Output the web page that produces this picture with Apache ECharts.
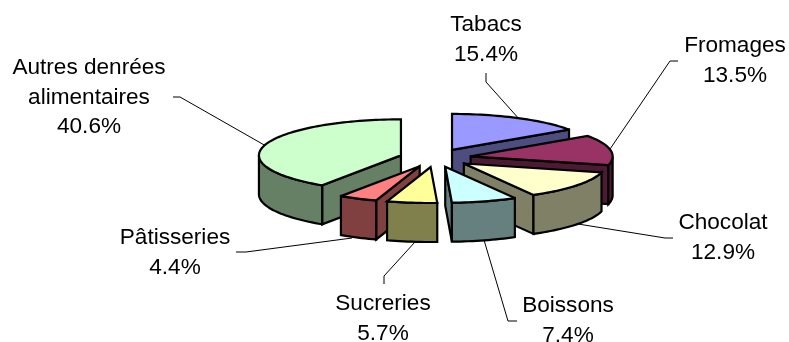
<!DOCTYPE html>
<html>
<head>
<meta charset="utf-8">
<style>html,body{margin:0;padding:0;background:#fff}#chart{width:789px;height:342px}</style>
<script src="https://cdn.jsdelivr.net/npm/echarts@6/dist/echarts.min.js"></script>
</head>
<body>
<div id="chart"></div>
<script>
// Slices run clockwise from twelve o'clock.
const categories = [['Tabacs'], ['Fromages'], ['Chocolat'], ['Boissons'], ['Sucreries'], ['Pâtisseries'], ['Autres denrées', 'alimentaires']];
const shares = [15.4, 13.5, 12.9, 7.4, 5.7, 4.4, 40.6];
const topColors = ['#9999FF', '#993366', '#FFFFCC', '#CCFFFF', '#FFFF99', '#FF8080', '#CCFFCC'];
const sideColors = ['#4D4D80', '#4D1A33', '#808066', '#668080', '#80804D', '#804040', '#668066'];

// Label anchors: centre x and baseline of the first line.
const labelAnchors = [[486, 32], [735, 53], [723, 230], [568, 313], [383, 311], [175, 245], [89, 75]];
// Leader lines from each label to its slice.
const leaders = [
  [[486, 73], [486, 82], [520, 120]],
  [[678, 61], [670, 61], [608, 152]],
  [[673, 238], [665, 238], [578, 224]],
  [[517, 321], [508, 321], [484, 240]],
  [[384, 284], [384, 276], [415, 242]],
  [[236, 252], [246, 252], [352, 238]],
  [[173, 97], [180, 97], [266, 146]]
];

// Pie projection, in chart pixels.
const pie = { cx: 435.3, cy: 158, rx: 142, ry: 36, depth: 39, explode: 35.9 };
const lineGap = 29.5;
const fontSize = 22.6;
const outline = { stroke: '#000', lineWidth: 2.2, lineJoin: 'miter', miterLimit: 3 };

const total = shares.reduce((a, b) => a + b, 0);
const angles = [];
shares.reduce((acc, v) => {
  const next = acc + v / total * 2 * Math.PI;
  angles.push([acc, next]);
  return next;
}, 0);

function apexOf(i) {
  const mid = (angles[i][0] + angles[i][1]) / 2;
  const k = pie.explode / pie.rx;
  return [pie.cx + pie.rx * k * Math.sin(mid), pie.cy - pie.ry * k * Math.cos(mid)];
}
function rim(i, t, drop) {
  const a = apexOf(i);
  return [a[0] + pie.rx * Math.sin(t), a[1] - pie.ry * Math.cos(t) + drop];
}
function arc(i, from, to, drop) {
  const steps = Math.max(2, Math.ceil(Math.abs(to - from) / 0.03));
  const pts = [];
  for (let s = 0; s <= steps; s++) pts.push(rim(i, from + (to - from) * s / steps, drop));
  return pts;
}

function renderSlice(params, api) {
  const i = api.value(1);
  const [from, to] = angles[i];
  const apex = apexOf(i);
  const apexLow = [apex[0], apex[1] + pie.depth];
  const toPx = pts => pts.map(p => api.coord(p));
  const poly = (pts, fill) => ({
    type: 'polygon',
    shape: { points: toPx(pts) },
    style: Object.assign({ fill }, outline)
  });
  const children = [];

  // Cut faces turned towards the viewer.
  if (Math.sin(from) < -1e-6) {
    children.push(poly([apex, rim(i, from, 0), rim(i, from, pie.depth), apexLow], sideColors[i]));
  }
  if (Math.sin(to) > 1e-6) {
    children.push(poly([apex, rim(i, to, 0), rim(i, to, pie.depth), apexLow], sideColors[i]));
  }
  // Outer wall: only the front half of the rim shows.
  const wallFrom = Math.max(from, Math.PI / 2);
  const wallTo = Math.min(to, 3 * Math.PI / 2);
  if (wallTo > wallFrom) {
    const wall = arc(i, wallFrom, wallTo, 0).concat(arc(i, wallTo, wallFrom, pie.depth));
    children.push(poly(wall, sideColors[i]));
  }
  children.push(poly([apex].concat(arc(i, from, to, 0)), topColors[i]));
  return { type: 'group', children };
}

function renderLabel(params, api) {
  const i = api.value(1);
  const lines = categories[i].concat(shares[i].toFixed(1) + '%');
  const [x, y] = labelAnchors[i];
  const children = lines.map((t, n) => {
    const p = api.coord([x, y + n * lineGap]);
    return {
      type: 'text',
      style: {
        x: p[0], y: p[1], text: t, align: 'center', verticalAlign: 'bottom',
        fill: '#000', font: fontSize + 'px "Liberation Sans", Arial, sans-serif',
        lineHeight: fontSize
      },
      position: [0, fontSize * 0.2]
    };
  });
  children.push({
    type: 'polyline',
    shape: { points: leaders[i].map(p => api.coord(p)) },
    style: { stroke: '#000', lineWidth: 1, fill: 'none' }
  });
  return { type: 'group', children };
}

// Paint slices from the back of the pie to the front.
const indices = shares.map((_, i) => i);
const paintOrder = indices.slice().sort((a, b) => apexOf(a)[1] - apexOf(b)[1]);

const chart = echarts.init(document.getElementById('chart'), null, { renderer: 'canvas' });
chart.setOption({
  animation: false,
  backgroundColor: '#fff',
  grid: { left: 0, right: 0, top: 0, bottom: 0 },
  xAxis: { type: 'value', min: 0, max: 789, show: false },
  yAxis: { type: 'value', min: 0, max: 342, inverse: true, show: false },
  series: [
    {
      type: 'custom', name: 'labels', silent: true, clip: false, z: 1,
      renderItem: renderLabel,
      encode: { x: 0, y: 0 },
      data: indices.map(i => [shares[i], i])
    },
    {
      type: 'custom', name: 'slices', silent: true, clip: false, z: 2,
      renderItem: renderSlice,
      encode: { x: 0, y: 0 },
      data: paintOrder.map(i => [shares[i], i])
    }
  ]
});
</script>
</body>
</html>
